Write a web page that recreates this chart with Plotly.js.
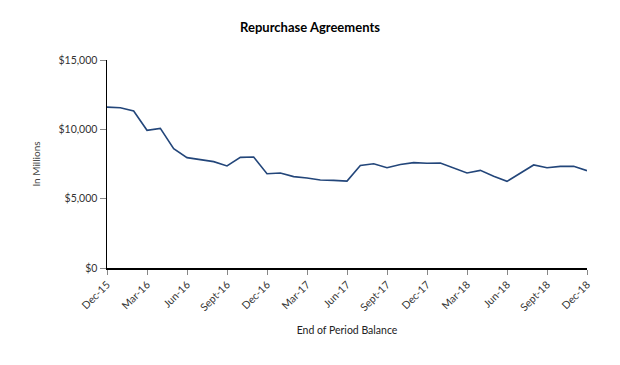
<!DOCTYPE html>
<html>
<head>
<meta charset="utf-8">
<script src="https://cdn.plot.ly/plotly-3.0.1.min.js"></script>
<style>html,body{margin:0;padding:0;background:#fff;}#chart{width:620px;height:365px;}</style>
</head>
<body>
<div id="chart"></div>
<script>
var months = ["Dec-15","Jan-16","Feb-16","Mar-16","Apr-16","May-16","Jun-16","Jul-16","Aug-16","Sept-16","Oct-16","Nov-16",
  "Dec-16","Jan-17","Feb-17","Mar-17","Apr-17","May-17","Jun-17","Jul-17","Aug-17","Sept-17","Oct-17","Nov-17",
  "Dec-17","Jan-18","Feb-18","Mar-18","Apr-18","May-18","Jun-18","Jul-18","Aug-18","Sept-18","Oct-18","Nov-18","Dec-18"];
var balance = [11600,11560,11320,9930,10070,8600,7960,7790,7670,7360,7980,8000,
  6800,6850,6590,6490,6350,6320,6270,7400,7520,7230,7470,7600,
  7550,7570,7210,6850,7040,6610,6250,6830,7430,7230,7330,7330,7020];
var tickLabels = ["Dec-15","Mar-16","Jun-16","Sept-16","Dec-16","Mar-17","Jun-17","Sept-17","Dec-17","Mar-18","Jun-18","Sept-18","Dec-18"];
var yTicks = [0,5000,10000,15000];
var yTickText = ["$0","$5,000","$10,000","$15,000"];

var font = "Lato, 'Open Sans', sans-serif";
Plotly.newPlot("chart", [{
  x: months, y: balance, type: "scatter", mode: "lines",
  line: {color: "#23467a", width: 1.6}, hoverinfo: "skip"
}], {
  width: 620, height: 365,
  margin: {l: 107, r: 33, t: 60, b: 97},
  paper_bgcolor: "#fff", plot_bgcolor: "#fff",
  showlegend: false,
  font: {family: font, color: "#333", size: 10},
  title: {text: "<b>Repurchase Agreements</b>", font: {family: font, size: 13, color: "#000"}, x: 0.5, xanchor: "center", y: 0.925, yanchor: "middle"},
  xaxis: {
    type: "category", range: [0, 36], tickmode: "array", tickvals: tickLabels, ticktext: tickLabels,
    tickangle: -45, ticks: "outside", ticklen: 5, tickcolor: "#888", tickwidth: 1,
    showline: true, linecolor: "#000", linewidth: 1.5, showgrid: false, zeroline: false,
    tickfont: {family: font, size: 10.5, color: "#333"},
    title: {text: "End of Period Balance", font: {family: font, size: 10.5, color: "#222"}, standoff: 14}
  },
  yaxis: {
    range: [0, 15000], tickmode: "array", tickvals: yTicks, ticktext: yTickText,
    ticks: "outside", ticklen: 6, tickcolor: "#888", tickwidth: 1,
    showline: true, linecolor: "#000", linewidth: 1.5, showgrid: false, zeroline: false,
    tickfont: {family: font, size: 10.5, color: "#333"},
    title: {text: "In Millions", font: {family: font, size: 10, color: "#444"}, standoff: 16}
  }
}, {displayModeBar: false, staticPlot: true});
</script>
</body>
</html>
